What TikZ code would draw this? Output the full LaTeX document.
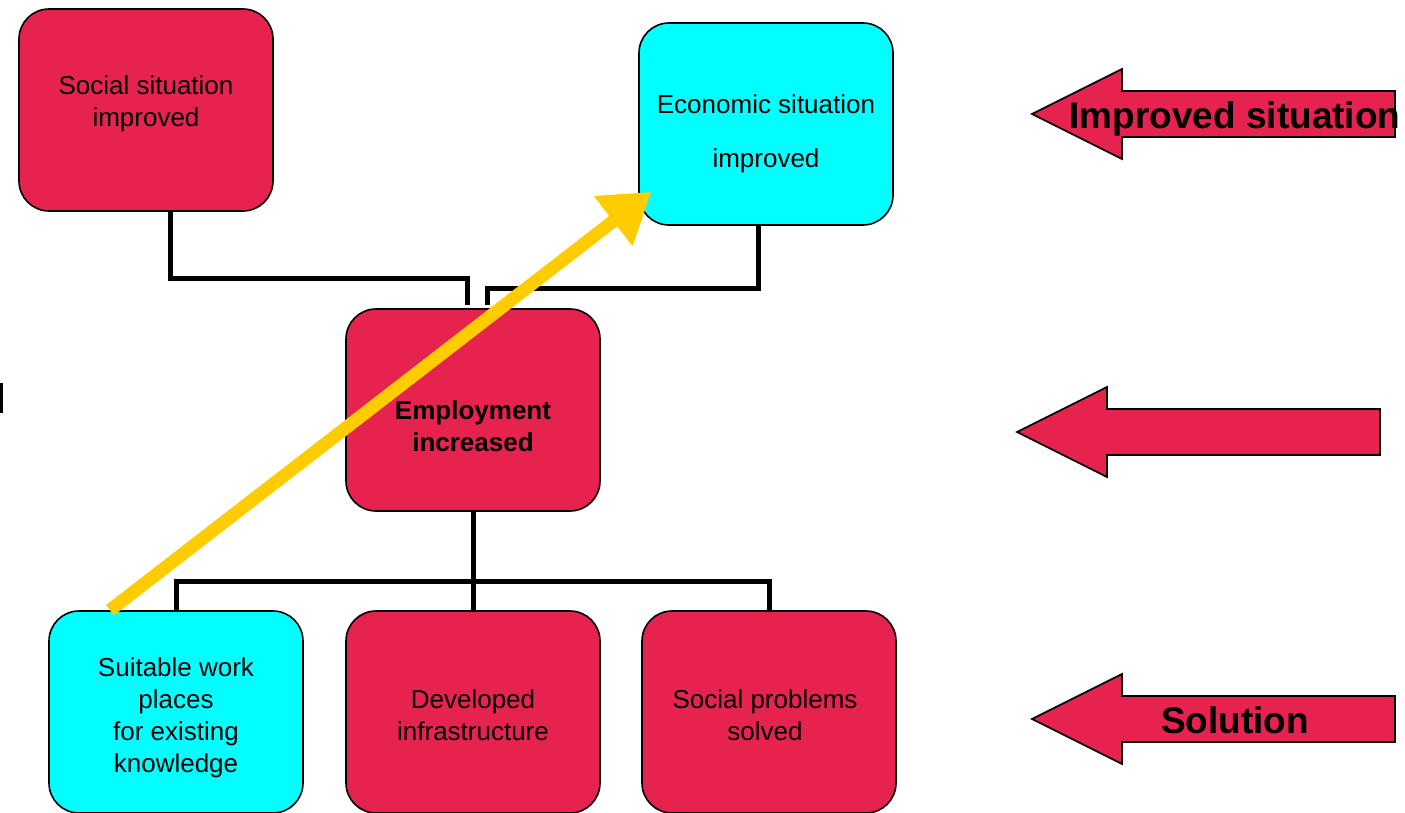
\documentclass[tikz,border=0pt]{standalone}
\usepackage{fontspec}
\setmainfont{Liberation Sans}
\usetikzlibrary{arrows.meta}

\definecolor{boxred}{HTML}{E6224F}
\definecolor{boxcyan}{HTML}{00FFFF}
\definecolor{arrowyellow}{HTML}{FFCC00}

\begin{document}
\begin{tikzpicture}[x=1pt, y=-1pt,
  box/.style={draw=black, line width=1.6pt, rounded corners=30pt, minimum width=254pt, minimum height=202pt},
  boxtext/.style={align=center, font=\fontsize{26}{32}\selectfont},
  conn/.style={black, line width=5pt},
  blockarrow/.style={draw=black, line width=1.6pt, fill=boxred, line join=miter},
  bigtext/.style={font=\fontsize{37}{40}\selectfont\bfseries},
  yarrow/.style={arrowyellow, line width=13pt, -{Triangle[length=48pt,width=60pt]}}]
\useasboundingbox (0,0) rectangle (1405,813);
% Boxes
\node[box, fill=boxred] (soc) at (146,110) {};
\node[box, fill=boxcyan] (eco) at (766,124) {};
\node[box, fill=boxred] (emp) at (473,410) {};
\node[box, fill=boxcyan] (suit) at (176,712) {};
\node[box, fill=boxred] (dev) at (473,712) {};
\node[box, fill=boxred] (solv) at (769,712) {};
% Box texts
\node[boxtext] (soct) at ([yshift=6pt]soc) {Social situation\\improved};
\node[boxtext] (ecot) at ([yshift=-10pt]eco) {Economic situation\\[22pt]improved};
\node[boxtext, font=\fontsize{26}{32}\selectfont\bfseries] (empt) at ([yshift=-16pt]emp) {Employment\\increased};
\node[boxtext] (suitt) at ([yshift=-6pt]suit) {Suitable work\\places\\ for existing\\knowledge};
\node[boxtext] (devt) at ([yshift=-3pt]dev) {Developed\\infrastructure};
\node[boxtext] (solvt) at ([xshift=-4pt,yshift=-3pt]solv) {Social problems\\solved};
% Joints above the middle box
\coordinate (jl) at (467,305);
\coordinate (jr) at (487,305);
% Connectors
\draw[conn] ([xshift=24pt]soc.south) -- ++(0,67) -| (jl);
\draw[conn] ([xshift=-8pt]eco.south) -- ++(0,63) -| (jr);
\draw[conn] (emp.south) -- (dev.north);
\draw[conn] (suit.north) -- ++(0,-29) -| (solv.north);
% Yellow arrow
\draw[yarrow] ([xshift=-66pt]suit.north) -- ([xshift=13pt,yshift=34pt]eco.south west);
% Block arrows on the right
\foreach \tx/\ty/\rx in {1032/114/1395, 1017/432/1380, 1032/719/1395}
  \draw[blockarrow] (\tx,\ty) -- (\tx+90,\ty-45) -- (\tx+90,\ty-23) -- (\rx,\ty-23) -- (\rx,\ty+23) -- (\tx+90,\ty+23) -- (\tx+90,\ty+45) -- cycle;
\node[bigtext] (imp) at (1235,119) {Improved situation};
\node[bigtext] (sol) at (1235,720) {Solution};
% Small mark at the left edge
\draw[line width=3pt] (1,383) -- (1,413);
\end{tikzpicture}
\end{document}
